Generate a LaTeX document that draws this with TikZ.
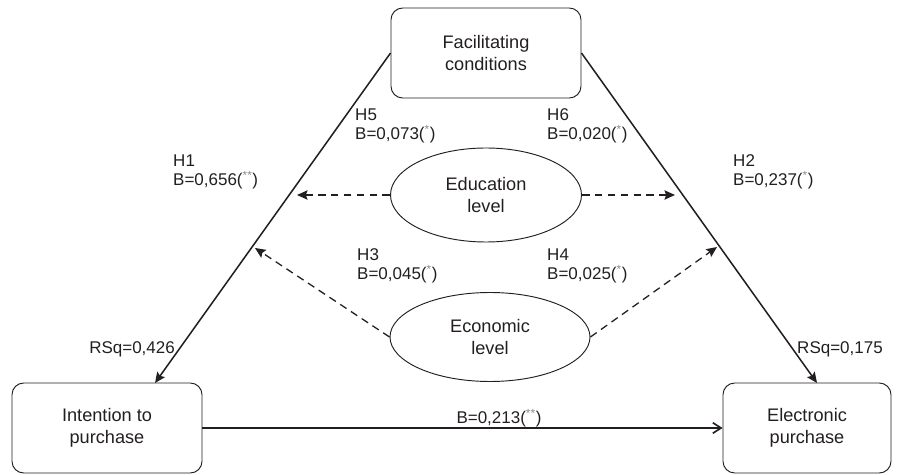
\documentclass[tikz,border=0pt]{standalone}
\usepackage{fontspec}
\setmainfont{Liberation Sans}
\usepackage{tikz}
\usetikzlibrary{arrows.meta}
\usetikzlibrary{shapes.geometric}
\definecolor{fcink}{HTML}{231F20}
\definecolor{fcstar}{HTML}{8A8A8A}
\tikzset{
  fcbox/.style={
    draw=fcink, rounded corners=10pt, line width=0.8pt, align=center,
    font=\fontsize{15.5}{19}\selectfont, text=fcink},
  fcellipse/.style={
    ellipse, draw=fcink, line width=0.8pt, inner sep=0pt, align=center,
    font=\fontsize{15.5}{19}\selectfont, text=fcink},
  fcarrow/.style={
    -{Stealth[length=9pt, width=8pt, inset=1.5pt]}, draw=fcink,
    line width=1.3pt},
  fcdash/.style={
    -{Stealth[length=9pt, width=8pt, inset=1.5pt]}, draw=fcink,
    line width=1.1pt, dash pattern=on 6.5pt off 4.5pt},
  fcopen/.style={
    -{Straight Barb[length=7pt, width=9pt]}, draw=fcink,
    line width=1.4pt},
  fclabel/.style={
    inner sep=0pt, align=left, font=\fontsize{14.5}{16.5}\selectfont,
    text=fcink},
}
\newcommand{\fcst}[1]{(\textsuperscript{\textcolor{fcstar}{#1}})}

\begin{document}
\begin{tikzpicture}[x=0.3mm, y=-0.3mm]
\useasboundingbox (0, 0) rectangle (900, 475);

% The three constructs.
\node[fcbox, minimum width=5.7cm, minimum height=2.7cm]
  (facil) at (486, 53) {Facilitating\\conditions};
\node[fcbox, minimum width=5.7cm, minimum height=2.7cm]
  (intent) at (107, 428) {Intention to\\purchase};
\node[fcbox, minimum width=5.04cm, minimum height=2.7cm]
  (purch) at (807, 428) {Electronic\\purchase};

% The two moderators.
\node[fcellipse, minimum width=5.73cm, minimum height=2.82cm]
  (edu) at (486, 195) {Education\\level};
\node[fcellipse, minimum width=6cm, minimum height=2.67cm]
  (econ) at (490, 337) {Economic\\level};

% Where the paths land.
\coordinate (intentIn) at (155, 383);
\coordinate (purchIn) at (817, 383);
\coordinate (eduL) at (297, 195);
\coordinate (eduR) at (675, 195);
\coordinate (econL) at (255, 248);
\coordinate (econR) at (717, 247);

% Direct paths.
\draw[fcarrow] (facil.west) -- (intentIn);
\draw[fcarrow] (facil.east) -- (purchIn);
\draw[fcopen] (intent.east) -- (purch.west);

% Moderating paths.
\draw[fcdash] (edu.west) -- (eduL);
\draw[fcdash] (edu.east) -- (eduR);
\draw[fcdash] (econ.west) -- (econL);
\draw[fcdash] (econ.east) -- (econR);

% Coefficients.
\node[fclabel, anchor=west] (h1) at (173, 172) {H1\\B=0,656\fcst{**}};
\node[fclabel, anchor=west] (h2) at (733, 172) {H2\\B=0,237\fcst{*}};
\node[fclabel, anchor=west] (h5) at (355, 126) {H5\\B=0,073\fcst{*}};
\node[fclabel, anchor=west] (h6) at (547, 126) {H6\\B=0,020\fcst{*}};
\node[fclabel, anchor=west] (h3) at (357, 266) {H3\\B=0,045\fcst{*}};
\node[fclabel, anchor=west] (h4) at (547, 266) {H4\\B=0,025\fcst{*}};
\node[fclabel] (bdir) at (499, 418) {B=0,213\fcst{**}};
\node[fclabel, anchor=east] (rsq1) at (175, 349) {RSq=0,426};
\node[fclabel, anchor=west] (rsq2) at (797, 349) {RSq=0,175};

\end{tikzpicture}
\end{document}
